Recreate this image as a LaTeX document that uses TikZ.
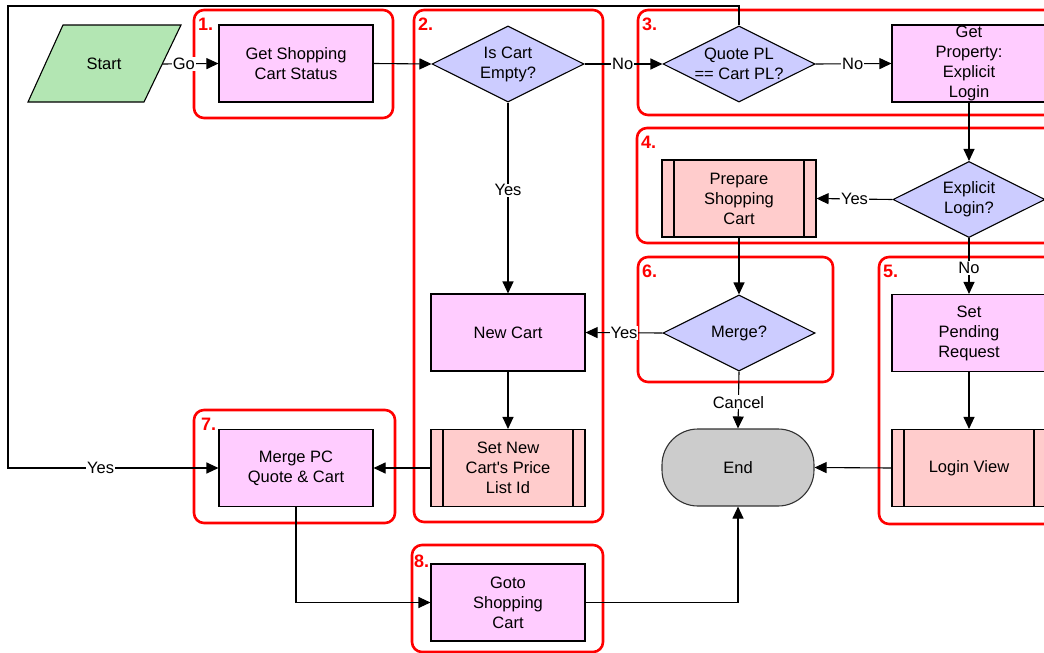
\documentclass[tikz,border=0pt]{standalone}
\usepackage{fontspec}
\setmainfont{Liberation Sans}[Ligatures=TeXOff]
\usetikzlibrary{arrows.meta,shapes.geometric}
\definecolor{procfill}{HTML}{FFCCFF}
\definecolor{decfill}{HTML}{CCCCFF}
\definecolor{subfill}{HTML}{FFCCCC}
\definecolor{startfill}{HTML}{B3E6B3}
\definecolor{endfill}{HTML}{CCCCCC}
\definecolor{grpred}{HTML}{FF0000}
\tikzset{
  base/.style={draw=black, line width=1.1pt, align=center, inner sep=0pt},
  proc/.style={base, rectangle, fill=procfill, minimum width=154pt, minimum height=77pt},
  sub/.style={proc, fill=subfill, path picture={
      \draw[line width=1.1pt] ([xshift=12pt]path picture bounding box.north west) -- ([xshift=12pt]path picture bounding box.south west)
        ([xshift=-12pt]path picture bounding box.north east) -- ([xshift=-12pt]path picture bounding box.south east);}},
  dec/.style={base, diamond, fill=decfill, minimum width=152pt, minimum height=76pt},
  endst/.style={base, rectangle, rounded corners=36pt, fill=endfill, draw=black!80, minimum width=152pt, minimum height=77pt},
  conn/.style={draw=black, line width=1.1pt, -{Triangle[length=12pt,width=11pt]}},
  lbl/.style={fill=white, inner sep=1pt, text=black},
  grp/.style={draw=grpred, line width=2.6pt, rounded corners=10pt},
  grpnum/.style={anchor=base west, text=grpred, font=\fontsize{18}{20}\selectfont\bfseries, inner sep=0pt}
}
\begin{document}
\begin{tikzpicture}[x=1pt, y=-1pt, font=\fontsize{16.5}{20}\selectfont]
\useasboundingbox (0,0) rectangle (1044,653);
\fill[white] (0,0) rectangle (1044,653);
\clip (0,0) rectangle (1044,653);

% group frames
\draw[grp] (194,10) rectangle (393,118);
\draw[grp] (414,10) rectangle (603,522);
\draw[grp] (638,10) rectangle (1064,115);
\draw[grp] (637,128) rectangle (1064,243);
\draw[grp] (638,257) rectangle (833,382);
\draw[grp] (879,257) rectangle (1064,524);
\draw[grp] (194,410) rectangle (395,523);
\draw[grp] (412,545) rectangle (603,652);
\node[grpnum] (n1) at (198,30) {1.};
\node[grpnum] (n2) at (418,30) {2.};
\node[grpnum] (n3) at (642,30) {3.};
\node[grpnum] (n4) at (641,148) {4.};
\node[grpnum] (n6) at (642,277) {6.};
\node[grpnum] (n5) at (883,277) {5.};
\node[grpnum] (n7) at (201,430) {7.};
\node[grpnum] (n8) at (414,567) {8.};

% start parallelogram
\filldraw[fill=startfill, draw=black, line width=1.1pt] (63,25) -- (181,25) -- (144,102) -- (28,102) -- cycle;
\node (start) at (104,64) {Start};
\coordinate (startE) at (162.5,64);

% nodes
\node[proc] (get) at (296,63.5) {Get Shopping\\Cart Status};
\node[dec, label={[align=center]center:Is Cart\\Empty?}] (ice) at (508,64) {};
\node[dec, label={[align=center]center:Quote PL\\== Cart PL?}] (qpl) at (739,64) {};
\node[proc] (gp) at (969,63.5) {Get\\Property:\\Explicit\\Login};
\node[dec, label={[align=center]center:Explicit\\Login?}] (el) at (969,199.5) {};
\node[sub] (prep) at (739,198.5) {Prepare\\Shopping\\Cart};
\node[proc] (sp) at (969,333) {Set\\Pending\\Request};
\node[sub] (lv) at (969,468) {Login View};
\node[proc] (nc) at (508,332.5) {New Cart};
\node[dec, label={center:Merge?}] (merge) at (739,333) {};
\node[endst] (end) at (738,467.5) {End};
\node[sub] (snc) at (508,468) {Set New\\Cart's Price\\List Id};
\node[proc] (mpc) at (296,468) {Merge PC\\Quote \& Cart};
\node[proc] (goto) at (508,602.5) {Goto\\Shopping\\Cart};

\coordinate (loopTL) at (8,6);
\coordinate (loopBL) at (8,468);

% connectors
\draw[conn] (startE) -- node[lbl, pos=0.38] {Go} (get.west);
\draw[conn] (get.east) -- (ice.west);
\draw[conn] (ice.east) -- node[lbl, pos=0.49] {No} (qpl.west);
\draw[conn] (qpl.east) -- node[lbl, pos=0.49] {No} (gp.west);
\draw[conn] (gp.south) -- (el.north);
\draw[conn] (el.west) -- node[lbl, pos=0.5] {Yes} (prep.east);
\draw[conn] (el.south) -- node[lbl, pos=0.54] {No} (sp.north);
\draw[conn] (sp.south) -- (lv.north);
\draw[conn] (lv.west) -- (end.east);
\draw[conn] (prep.south) -- (merge.north);
\draw[conn] (merge.west) -- node[lbl, pos=0.5] {Yes} (nc.east);
\draw[conn] (merge.south) -- node[lbl, pos=0.54] {Cancel} (end.north);
\draw[conn] (ice.south) -- node[lbl, pos=0.46] {Yes} (nc.north);
\draw[conn] (nc.south) -- (snc.north);
\draw[conn] (snc.west) -- (mpc.east);
\draw[conn] (qpl.north) |- (loopTL) -- (loopBL) -- node[lbl, pos=0.44] {Yes} (mpc.west);
\draw[conn] (mpc.south) |- (goto.west);
\draw[conn] (goto.east) -| (end.south);
\end{tikzpicture}
\end{document}
